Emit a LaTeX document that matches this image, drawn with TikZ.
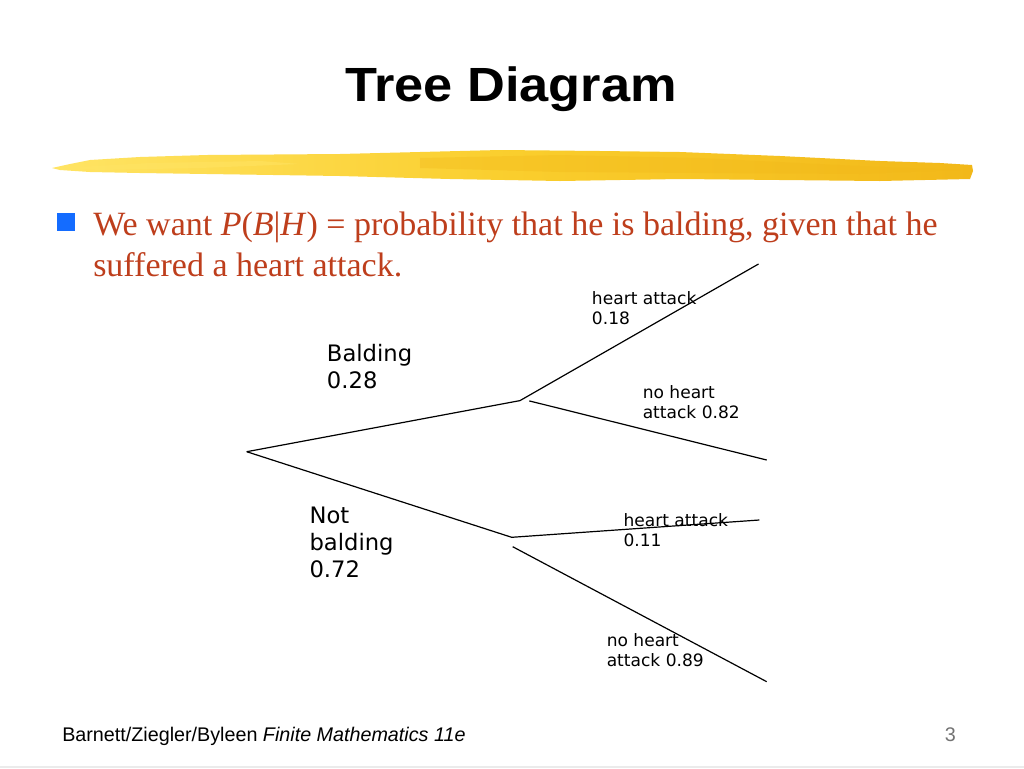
\documentclass[tikz,border=0pt]{standalone}
\usepackage{fontspec}
\setmainfont{Liberation Serif}
\newfontfamily\arialf{Liberation Sans}
\newfontfamily\dejavuf{DejaVu Sans}
\usetikzlibrary{calc}
\definecolor{bodyred}{RGB}{190,62,28}
\definecolor{bulletblue}{RGB}{20,108,255}
\definecolor{yelA}{RGB}{255,228,100}
\definecolor{yelB}{RGB}{250,206,45}
\definecolor{yelC}{RGB}{242,184,25}
\tikzset{
  branch/.style={draw=black, line width=0.9pt},
  smalllab/.style={anchor=north west, inner sep=0pt, align=left, font=\dejavuf\fontsize{12.8}{15}\selectfont},
  biglab/.style={anchor=north west, inner sep=0pt, align=left, font=\dejavuf\fontsize{17}{20.3}\selectfont},
  bodytext/.style={anchor=base west, inner sep=0pt, text=bodyred, font=\fontsize{25.5}{31}\selectfont},
}
\begin{document}
\begin{tikzpicture}[x=0.75pt,y=-0.75pt]
\useasboundingbox (0,0) rectangle (1024,768);
\fill[white] (0,0) rectangle (1024,768);

% title
\node[inner sep=0pt, anchor=base] (title) at (511,101.7)
  {\scalebox{1.09}[1]{\arialf\bfseries\fontsize{36}{40}\selectfont Tree Diagram}};

% yellow brush stroke
\shade[left color=yelA, right color=yelC, middle color=yelB]
  (52,168) -- (70,164) -- (90,160) -- (140,157) -- (207,155) -- (340,154)
  -- (420,152) -- (500,150) -- (600,151) -- (680,152) -- (780,156) -- (880,161)
  -- (940,163) -- (972,165) -- (973,171) -- (970,179) -- (880,181) -- (780,180)
  -- (680,179) -- (560,181) -- (450,179) -- (340,176) -- (207,174) -- (140,173)
  -- (90,172) -- (60,170) -- cycle;
\fill[yelC, opacity=0.35] (420,158) -- (560,155) -- (700,158) -- (860,166) -- (960,170) -- (860,174) -- (700,173) -- (560,172) -- (420,168) -- cycle;
\fill[yelA, opacity=0.5] (60,168) -- (150,163) -- (260,161) -- (300,164) -- (200,168) -- (100,170) -- cycle;

% bullet
\fill[bulletblue] (57,213) rectangle (75,231);
\node[bodytext] (line1) at (93,235.5)
  {We want \textit{P}(\textit{B}|\textit{H}) = probability that he is balding, given that he};
\node[bodytext] (line2) at (93,276.5) {suffered a heart attack.};

% tree
\coordinate (root) at (246.7,451.7);
\coordinate (bal) at (520,400.6);
\coordinate (balA) at (529.3,400.9);
\coordinate (nbal) at (511.7,537.3);
\coordinate (nbalA) at (512.7,546.7);
\coordinate (e1) at (758.5,264);
\coordinate (e2) at (766.7,460);
\coordinate (e3) at (759.3,520);
\coordinate (e4) at (766.7,681.7);

\draw[branch] (root) -- (bal) -- (e1);
\draw[branch] (balA) -- (e2);
\draw[branch] (root) -- (nbal) -- (e3);
\draw[branch] (nbalA) -- (e4);

\node[biglab] (lbal) at (326.7,344.3) {Balding\\0.28};
\node[biglab] (lnbal) at (309.3,506.7) {Not\\balding\\0.72};
\node[smalllab] (l1) at (591.7,291.2) {heart attack\\0.18};
\node[smalllab] (l2) at (642.5,385.3) {no heart\\attack 0.82};
\node[smalllab] (l3) at (623.3,513.3) {heart attack\\0.11};
\node[smalllab] (l4) at (606.5,633) {no heart\\attack 0.89};

% footer
\node[anchor=base west, inner sep=0pt, font=\arialf\fontsize{14.8}{17}\selectfont] (foot) at (62,741)
  {Barnett/Ziegler/Byleen \textit{Finite Mathematics 11e}};
\node[anchor=base east, inner sep=0pt, text=black!55, font=\arialf\fontsize{14.8}{17}\selectfont] (pnum) at (956,741) {3};
\draw[black!8, line width=1pt] (0,767) -- (1024,767);
\end{tikzpicture}
\end{document}
